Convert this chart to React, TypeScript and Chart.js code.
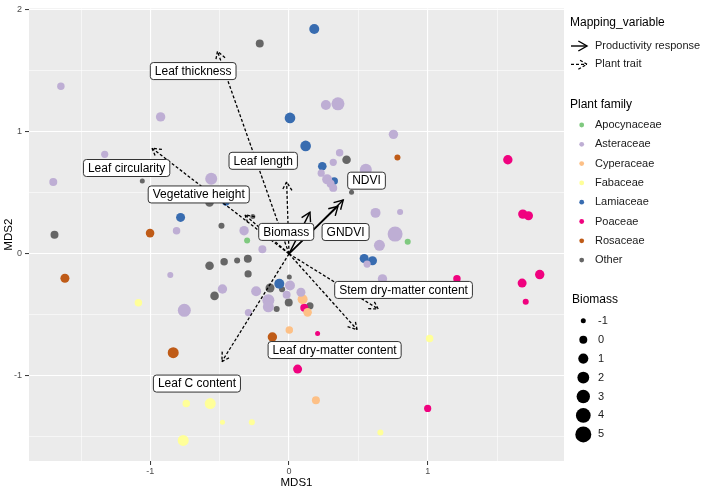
import React, { useEffect, useRef } from "react";
import { Chart, registerables } from "chart.js";
Chart.register(...registerables);

const FONT = "'Liberation Sans', Arial, Helvetica, sans-serif";

const FAMILIES = ["Apocynaceae", "Asteraceae", "Cyperaceae", "Fabaceae", "Lamiaceae", "Poaceae", "Rosaceae", "Other"];
const FAMILY_COLORS = ["#7FC97F", "#BEAED4", "#FDC086", "#FFFF99", "#386CB0", "#F0027F", "#BF5B17", "#666666"];

// [MDS1, MDS2, biomass]
const APOCYNACEAE = [[-0.302, 0.11, -0.7], [0.856, 0.1, -0.7]];
const ASTERACEAE = [
  [-1.645, 1.375, -0.2], [-0.926, 1.123, 0.65], [-1.329, 0.816, -0.3], [-1.7, 0.59, 0],
  [-0.561, 0.616, 2.1], [-0.811, 0.19, -0.2], [-0.324, 0.19, 0.65], [-0.192, 0.037, 0],
  [0.266, 1.22, 0.95], [0.353, 1.23, 2.75], [0.753, 0.98, 0.65], [0.365, 0.829, -0.2],
  [0.319, 0.751, -0.3], [0.554, 0.69, 2.1], [0.232, 0.662, -0.3], [0.275, 0.611, 0.95],
  [0.3, 0.575, 0], [0.319, 0.541, 0], [0.624, 0.336, 0.95], [0.801, 0.344, -0.7],
  [0.765, 0.162, 4.2], [0.652, 0.07, 1.5], [0.563, -0.084, -0.3], [0.674, -0.205, 0.65],
  [0.007, -0.259, 0.95], [-0.237, -0.307, 0.95], [0.086, -0.315, 0.46], [-0.017, -0.335, 0],
  [-0.149, -0.38, 2.1], [-0.149, -0.434, 1.5], [-0.856, -0.173, -0.7], [-0.48, -0.288, 0.65],
  [-0.755, -0.463, 2.75], [-0.293, -0.482, -0.3],
];
const CYPERACEAE = [[0.098, -0.372, 0.95], [0.134, -0.48, 0.27], [0.002, -0.625, -0.2], [0.194, -1.201, 0]];
const FABACEAE = [
  [1.014, -0.695, -0.2], [0.659, -1.465, -0.7], [-0.268, -1.381, -0.7], [-1.086, -0.401, -0.2],
  [-0.741, -1.228, -0.2], [-0.568, -1.228, 1.5], [-0.48, -1.381, -1], [-0.763, -1.53, 1.5],
];
const LAMIACEAE = [
  [0.007, 1.115, 1.3], [0.182, 1.844, 0.95], [0.12, 0.885, 1.3], [0.24, 0.719, 0.27],
  [0.326, 0.598, -0.2], [-0.455, 0.425, -0.2], [-0.782, 0.299, 0.46], [0.542, -0.038, 0.46],
  [0.602, -0.057, 0.46], [-0.07, -0.246, 0.95],
];
const POACEAE = [
  [1.578, 0.772, 0.65], [1.686, 0.326, 0.65], [1.727, 0.312, 0.46], [1.211, -0.205, -0.2],
  [1.808, -0.17, 0.65], [1.681, -0.24, 0.46], [1.707, -0.393, -0.7], [0.11, -0.442, 0],
  [0.206, -0.654, -1], [0.062, -0.945, 0.46], [1.0, -1.268, -0.3],
];
const ROSACEAE = [[-1.002, 0.17, 0.27], [0.782, 0.79, -0.7], [-1.616, -0.2, 0.46], [-0.835, -0.811, 1.5], [-0.12, -0.682, 0.65]];
const OTHER = [
  [-0.211, 1.725, 0], [-1.058, 0.598, -1], [-0.573, 0.422, 0.27], [-0.487, 0.231, -0.7],
  [-1.691, 0.156, 0], [-0.261, 0.307, -1], [0.415, 0.772, 0.27], [0.451, 0.506, -1],
  [-0.137, -0.28, 0.46], [-0.05, -0.29, -0.7], [0.002, -0.19, -1], [-0.002, -0.399, 0],
  [0.151, -0.426, -0.3], [-0.089, -0.452, -0.7], [-0.573, -0.097, 0.27], [-0.468, -0.065, -0.2],
  [-0.374, -0.054, -0.7], [-0.297, -0.04, 0], [-0.295, -0.165, -0.3], [-0.537, -0.345, 0.27],
];
const FAMILY_POINTS = [APOCYNACEAE, ASTERACEAE, CYPERACEAE, FABACEAE, LAMIACEAE, POACEAE, ROSACEAE, OTHER];

const VECTOR_NAMES = ["Leaf thickness", "Leaf circularity", "Vegetative height", "Leaf length", "Biomass", "GNDVI", "NDVI", "Stem dry-matter content", "Leaf dry-matter content", "Leaf C content"];
const VECTOR_TYPES = ["trait", "trait", "trait", "trait", "response", "response", "response", "trait", "trait", "trait"];
const VECTOR_X = [-0.516, -0.988, -0.317, -0.017, 0.151, 0.353, 0.391, 0.643, 0.491, -0.484];
const VECTOR_Y = [1.661, 0.867, 0.32, 0.59, 0.342, 0.39, 0.441, -0.452, -0.622, -0.884];
const LABEL_X = [-0.691, -1.171, -0.651, -0.186, -0.02, 0.408, 0.559, 0.826, 0.329, -0.664];
const LABEL_Y = [1.499, 0.704, 0.487, 0.763, 0.18, 0.179, 0.6, -0.296, -0.789, -1.064];

const X_MAJOR = [-1, 0, 1];
const X_MINOR = [-1.5, -0.5, 0.5, 1.5];
const Y_MAJOR = [-1, 0, 1, 2];
const Y_MINOR = [-1.5, -0.5, 0.5, 1.5];
const X_LIMITS = [-1.875, 1.983];
const Y_LIMITS = [-1.699, 2.013];
const BIOMASS_LEVELS = [-1, 0, 1, 2, 3, 4, 5];
const MAPPING_LEVELS = ["Productivity response", "Plant trait"];

const radiusFor = (b: number) => Math.sqrt(6.25 + 9.6 * (b + 1));
const DASH = [3, 2];
const TRAIT_W = 1.3;
const RESP_W = 1.4;

function arrowHead(ctx: CanvasRenderingContext2D, x0: number, y0: number, x1: number, y1: number, len: number) {
  const ang = Math.atan2(y1 - y0, x1 - x0);
  const a = Math.PI / 6;
  ctx.beginPath();
  ctx.moveTo(x1 - len * Math.cos(ang - a), y1 - len * Math.sin(ang - a));
  ctx.lineTo(x1, y1);
  ctx.lineTo(x1 - len * Math.cos(ang + a), y1 - len * Math.sin(ang + a));
  ctx.stroke();
}

function roundRect(ctx: CanvasRenderingContext2D, x: number, y: number, w: number, h: number, r: number) {
  ctx.beginPath();
  ctx.moveTo(x + r, y);
  ctx.lineTo(x + w - r, y);
  ctx.quadraticCurveTo(x + w, y, x + w, y + r);
  ctx.lineTo(x + w, y + h - r);
  ctx.quadraticCurveTo(x + w, y + h, x + w - r, y + h);
  ctx.lineTo(x + r, y + h);
  ctx.quadraticCurveTo(x, y + h, x, y + h - r);
  ctx.lineTo(x, y + r);
  ctx.quadraticCurveTo(x, y, x + r, y);
  ctx.closePath();
}

const overlayPlugin = {
  id: "overlay",
  beforeDraw(chart: any) {
    const { ctx, chartArea: a } = chart;
    ctx.save();
    ctx.fillStyle = "#EBEBEB";
    ctx.fillRect(a.left, a.top, a.right - a.left, a.bottom - a.top);
    ctx.restore();
  },
  afterDatasetsDraw(chart: any) {
    const { ctx } = chart;
    const xs = chart.scales.x;
    const ys = chart.scales.y;
    const ox = xs.getPixelForValue(0);
    const oy = ys.getPixelForValue(0);
    ctx.save();
    ctx.strokeStyle = "#000";
    VECTOR_NAMES.forEach((_, i) => {
      const tx = xs.getPixelForValue(VECTOR_X[i]);
      const ty = ys.getPixelForValue(VECTOR_Y[i]);
      const trait = VECTOR_TYPES[i] === "trait";
      ctx.lineWidth = trait ? TRAIT_W : RESP_W;
      ctx.setLineDash(trait ? DASH : []);
      arrowHead(ctx, ox, oy, tx, ty, 10);
    });
    ctx.setLineDash([]);
    ctx.font = `12px ${FONT}`;
    ctx.textAlign = "center";
    ctx.textBaseline = "middle";
    VECTOR_NAMES.forEach((name, i) => {
      const cx = xs.getPixelForValue(LABEL_X[i]);
      const cy = ys.getPixelForValue(LABEL_Y[i]);
      const w = ctx.measureText(name).width + 9;
      const h = 17;
      roundRect(ctx, cx - w / 2, cy - h / 2, w, h, 3);
      ctx.fillStyle = "#FFFFFF";
      ctx.fill();
      ctx.lineWidth = 1;
      ctx.strokeStyle = "#333333";
      ctx.stroke();
      ctx.fillStyle = "#000";
      ctx.fillText(name, cx, cy + 0.5);
    });
    ctx.restore();
  },
  afterDraw(chart: any) {
    const { ctx, chartArea: a } = chart;
    ctx.save();
    ctx.fillStyle = "#000";
    ctx.font = `11.5px ${FONT}`;
    ctx.textAlign = "center";
    ctx.textBaseline = "middle";
    ctx.fillText("MDS1", (a.left + a.right) / 2, 483);
    ctx.save();
    ctx.translate(9, (a.top + a.bottom) / 2);
    ctx.rotate(-Math.PI / 2);
    ctx.fillText("MDS2", 0, 0);
    ctx.restore();

    const lx = 570;
    ctx.textAlign = "left";
    ctx.font = `12px ${FONT}`;
    ctx.fillStyle = "#000";
    ctx.fillText("Mapping_variable", lx, 23);
    MAPPING_LEVELS.forEach((lab, i) => {
      const y = 46 + i * 18.3;
      ctx.strokeStyle = "#000";
      ctx.lineWidth = i === 0 ? RESP_W : TRAIT_W;
      ctx.setLineDash(i === 0 ? [] : DASH);
      ctx.beginPath();
      ctx.moveTo(lx + 1, y);
      ctx.lineTo(lx + 17, y);
      ctx.stroke();
      arrowHead(ctx, lx, y, lx + 17, y, 10);
      ctx.setLineDash([]);
      ctx.fillStyle = "#1A1A1A";
      ctx.font = `11px ${FONT}`;
      ctx.fillText(lab, 595, y);
    });

    ctx.font = `12px ${FONT}`;
    ctx.fillStyle = "#000";
    ctx.fillText("Plant family", lx, 105);
    FAMILIES.forEach((f, i) => {
      const y = 125 + i * 19.3;
      ctx.fillStyle = FAMILY_COLORS[i];
      ctx.beginPath();
      ctx.arc(581.7, y, 2.4, 0, Math.PI * 2);
      ctx.fill();
      ctx.fillStyle = "#1A1A1A";
      ctx.font = `11px ${FONT}`;
      ctx.fillText(f, 595, y);
    });

    ctx.font = `12px ${FONT}`;
    ctx.fillStyle = "#000";
    ctx.fillText("Biomass", 572, 300);
    BIOMASS_LEVELS.forEach((b, i) => {
      const y = 320.7 + i * 18.95;
      ctx.fillStyle = "#000";
      ctx.beginPath();
      ctx.arc(583.3, y, radiusFor(b), 0, Math.PI * 2);
      ctx.fill();
      ctx.fillStyle = "#1A1A1A";
      ctx.font = `11px ${FONT}`;
      ctx.fillText(String(b), 598, y);
    });
    ctx.restore();
  },
};

export default function App() {
  const ref = useRef<HTMLCanvasElement | null>(null);
  useEffect(() => {
    if (!ref.current) return;
    const pointSets = FAMILIES.map((f, i) => ({
      label: f,
      data: FAMILY_POINTS[i].map((p) => ({ x: p[0], y: p[1], b: p[2] })),
      backgroundColor: FAMILY_COLORS[i],
      borderWidth: 0,
      pointRadius: (c: any) => (c.raw ? radiusFor(c.raw.b) : 3),
      pointHoverRadius: (c: any) => (c.raw ? radiusFor(c.raw.b) : 3),
      order: 2,
    }));
    const vectorSets = VECTOR_NAMES.map((n, i) => ({
      label: n,
      data: [{ x: 0, y: 0 }, { x: VECTOR_X[i], y: VECTOR_Y[i] }],
      showLine: true,
      borderColor: "#000",
      borderWidth: VECTOR_TYPES[i] === "trait" ? TRAIT_W : RESP_W,
      borderDash: VECTOR_TYPES[i] === "trait" ? DASH : [],
      pointRadius: 0,
      order: 1,
    }));
    const tickFont = { family: FONT, size: 9 };
    const chart = new Chart(ref.current, {
      type: "scatter",
      data: { datasets: [...pointSets, ...vectorSets] as any },
      options: {
        animation: false,
        responsive: false,
        devicePixelRatio: 1,
        events: [],
        layout: { padding: { left: 0, right: 145, top: 2, bottom: 0 } },
        plugins: { legend: { display: false }, tooltip: { enabled: false } },
        scales: {
          x: {
            type: "linear",
            min: X_LIMITS[0],
            max: X_LIMITS[1],
            afterBuildTicks: (s: any) => {
              s.ticks = [...X_MAJOR, ...X_MINOR].sort((p, q) => p - q).map((v) => ({ value: v }));
            },
            afterFit: (s: any) => {
              s.height = 27;
            },
            ticks: {
              font: tickFont,
              color: "#4D4D4D",
              padding: 1,
              maxRotation: 0,
              autoSkip: false,
              callback: (v: any) => (X_MAJOR.includes(Number(v)) ? String(v) : ""),
            },
            grid: {
              color: "#FFFFFF",
              lineWidth: (c: any) => (c.tick && X_MAJOR.includes(c.tick.value) ? 1.1 : 0.55),
              tickColor: (c: any) => (c.tick && X_MAJOR.includes(c.tick.value) ? "#333333" : "rgba(0,0,0,0)"),
              tickWidth: 1,
              tickLength: 4,
            },
            border: { display: false },
          },
          y: {
            type: "linear",
            min: Y_LIMITS[0],
            max: Y_LIMITS[1],
            afterBuildTicks: (s: any) => {
              s.ticks = [...Y_MAJOR, ...Y_MINOR].sort((p, q) => p - q).map((v) => ({ value: v }));
            },
            afterFit: (s: any) => {
              s.width = 29;
            },
            ticks: {
              font: tickFont,
              color: "#4D4D4D",
              padding: 3,
              autoSkip: false,
              callback: (v: any) => (Y_MAJOR.includes(Number(v)) ? String(v) : ""),
            },
            grid: {
              color: "#FFFFFF",
              lineWidth: (c: any) => (c.tick && Y_MAJOR.includes(c.tick.value) ? 1.1 : 0.55),
              tickColor: (c: any) => (c.tick && Y_MAJOR.includes(c.tick.value) ? "#333333" : "rgba(0,0,0,0)"),
              tickWidth: 1,
              tickLength: 4,
            },
            border: { display: false },
          },
        },
      } as any,
      plugins: [overlayPlugin],
    });
    return () => chart.destroy();
  }, []);
  return (
    <div style={{ position: "absolute", left: 0, top: 0, width: 709, height: 488 }}>
      <canvas ref={ref} width={709} height={488} style={{ width: 709, height: 488, display: "block" }} />
    </div>
  );
}
